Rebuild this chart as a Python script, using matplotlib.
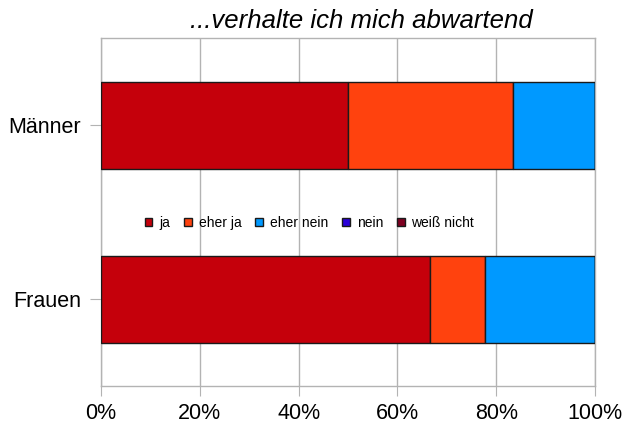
import matplotlib
matplotlib.use("Agg")
import matplotlib.pyplot as plt
import numpy as np

plt.rcParams['font.family'] = ['Liberation Sans', 'DejaVu Sans']

categories = ["Männer", "Frauen"]
series_names = ["ja", "eher ja", "eher nein", "nein", "weiß nicht"]
ja = [50.0, 66.7]
eher_ja = [33.3, 11.1]
eher_nein = [16.7, 22.2]
nein = [0.0, 0.0]
weiss_nicht = [0.0, 0.0]
colors = ["#C5000B", "#FF420E", "#0099FF", "#2A00D8", "#7E0021"]
xticks = [0, 20, 40, 60, 80, 100]
xticklabels = ["0%", "20%", "40%", "60%", "80%", "100%"]
title = "...verhalte ich mich abwartend"

fig = plt.figure(figsize=(6.26, 4.34), dpi=100)
ax = fig.add_axes([101/626, 1-386/434, 494/626, 348/434])

ypos = np.arange(len(categories))[::-1]
left = np.zeros(len(categories))
for name, vals, col in zip(series_names, [ja, eher_ja, eher_nein, nein, weiss_nicht], colors):
    vals = np.array(vals)
    ax.barh(ypos, vals, left=left, height=0.5, color=col, edgecolor="#1a1a1a",
            linewidth=1.0, label=name, zorder=3)
    left += vals

ax.set_xlim(0, 100)
ax.set_ylim(-0.5, 1.5)
ax.set_xticks(xticks)
ax.set_xticklabels(xticklabels, fontsize=15.5)
ax.set_yticks(ypos)
ax.set_yticklabels(categories, fontsize=15.5)
ax.xaxis.grid(True, color="#b3b3b3", linewidth=1.0, zorder=0)
ax.set_axisbelow(True)
for s in ax.spines.values():
    s.set_color("#b3b3b3")
    s.set_linewidth(1.0)
ax.tick_params(axis='x', direction='out', length=7.5, color="#b3b3b3", pad=4.5)
ax.tick_params(axis='y', direction='out', length=8, color="#b3b3b3", pad=6.4)

ax.legend(ncol=5, loc='center', bbox_to_anchor=((309.5-101)/494, (386-223)/348),
          frameon=False, fontsize=10, handlelength=0.55, handleheight=0.55,
          handletextpad=0.5, columnspacing=1.0, borderaxespad=0)

fig.text(361.5/626, 1-21/434, title, fontsize=18.5, style='italic', ha='center', va='center')

fig.savefig("out.png", dpi=100)
